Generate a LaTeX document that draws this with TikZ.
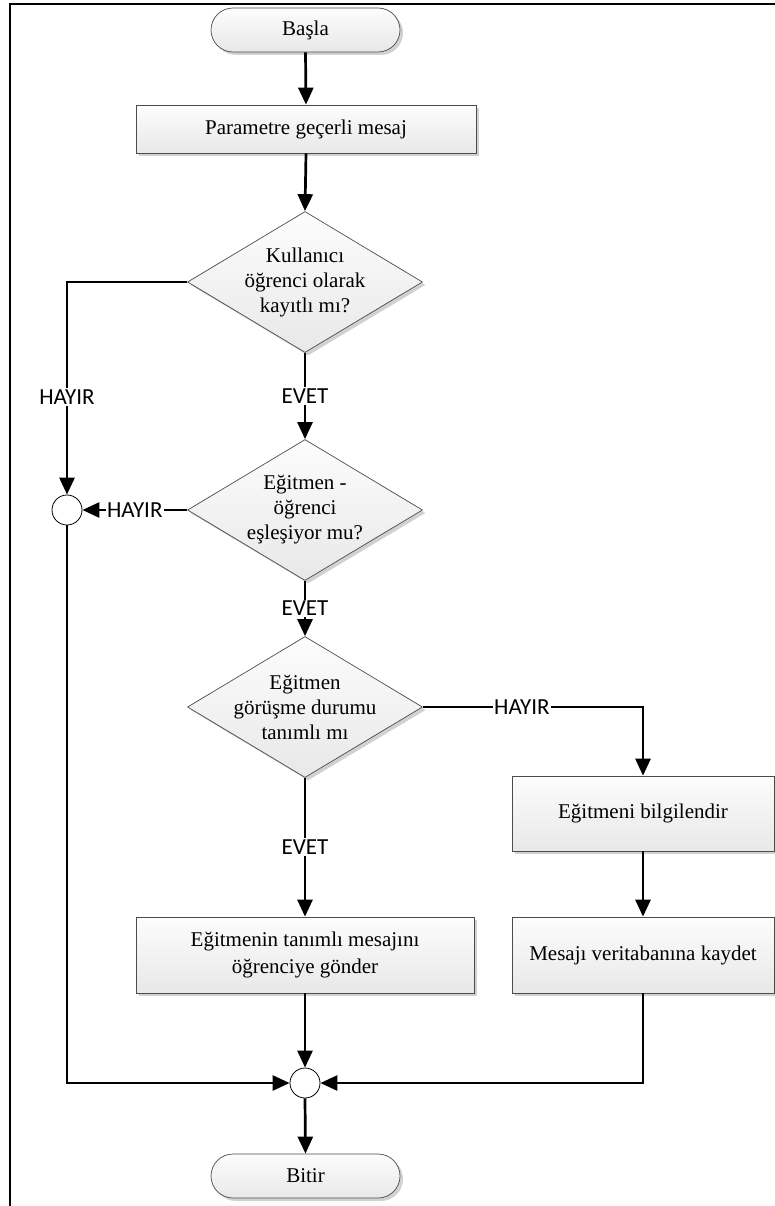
\documentclass[tikz,border=0pt]{standalone}
\usepackage{fontspec}
\setmainfont{Liberation Serif}
\newfontfamily\lblfont{Carlito}
\usetikzlibrary{shapes.geometric,shapes.misc,arrows.meta,shadows}

\begin{document}
\begin{tikzpicture}[x=1pt,y=-1pt,
  flow/.style={line width=2.7pt,-{Triangle[length=17pt,width=15pt]}},
  boxfill/.style={draw=black!70,line width=0.7pt,top color=black!1,bottom color=black!9,
    drop shadow={shadow xshift=3pt,shadow yshift=-3pt,fill=black,opacity=0.18}},
  procbox/.style={boxfill,rectangle,inner sep=0pt,align=center,font={\fontsize{21}{27}\selectfont}},
  termbox/.style={boxfill,rounded rectangle,minimum width=189pt,minimum height=44pt,inner sep=0pt,
    font={\fontsize{21}{25}\selectfont}},
  decision/.style={boxfill,diamond,shape aspect=1.667,minimum width=235pt,minimum height=141pt,
    inner sep=-6pt,align=center,font={\fontsize{21}{25}\selectfont}},
  joint/.style={circle,draw=black,line width=0.8pt,fill=white,minimum size=30pt,inner sep=0pt},
  lbl/.style={fill=white,inner sep=1.5pt,font={\lblfont\fontsize{23}{27}\selectfont}},
]
\useasboundingbox (0,0) rectangle (775,1206);

% outer frame (top and left edges)
\draw[line width=2pt] (10,1210) -- (10,4.3) -- (780,4.3);

% nodes
\node[termbox] (start) at (305.5,30) {Başla};
\node[procbox,minimum width=340pt,minimum height=48pt] (p1) at (306,129) {Parametre geçerli mesaj};
\node[decision] (d1) at (305,282) {Kullanıcı\\öğrenci olarak\\kayıtlı mı?};
\node[decision] (d2) at (305,510) {Eğitmen -\\öğrenci\\eşleşiyor mu?};
\node[decision] (d3) at (305,707) {Eğitmen\\görüşme durumu\\tanımlı mı};
\node[joint] (j1) at (67,510) {};
\node[procbox,minimum width=262pt,minimum height=75pt] (p2) at (643,813.5) {Eğitmeni bilgilendir};
\node[procbox,minimum width=262pt,minimum height=76pt] (p3) at (643,955) {Mesajı veritabanına kaydet};
\node[procbox,minimum width=338pt,minimum height=76pt] (p4) at (305,955) {Eğitmenin tanımlı mesajını\\öğrenciye gönder};
\node[joint] (j2) at (305,1083) {};
\node[termbox] (end) at (305.5,1176) {Bitir};

% connectors
\draw[flow] (start.south) -- (p1.north);
\draw[flow] (p1.south) -- (d1.north);
\draw[flow] (d1.west) -| node[lbl,pos=0.77] {HAYIR} (j1.north);
\draw[flow] (d1.south) -- node[lbl] {EVET} (d2.north);
\draw[flow] (d2.west) -- node[lbl] {HAYIR} (j1.east);
\draw[flow] (d2.south) -- node[lbl] {EVET} (d3.north);
\draw[flow] (d3.east) -| node[lbl,pos=0.225] {HAYIR} (p2.north);
\draw[flow] (d3.south) -- node[lbl] {EVET} (p4.north);
\draw[flow] (p2.south) -- (p3.north);
\draw[flow] (p4.south) -- (j2.north);
\draw[flow] (p3.south) |- (j2.east);
\draw[flow] (j1.south) |- (j2.west);
\draw[flow] (j2.south) -- (end.north);
\end{tikzpicture}
\end{document}
